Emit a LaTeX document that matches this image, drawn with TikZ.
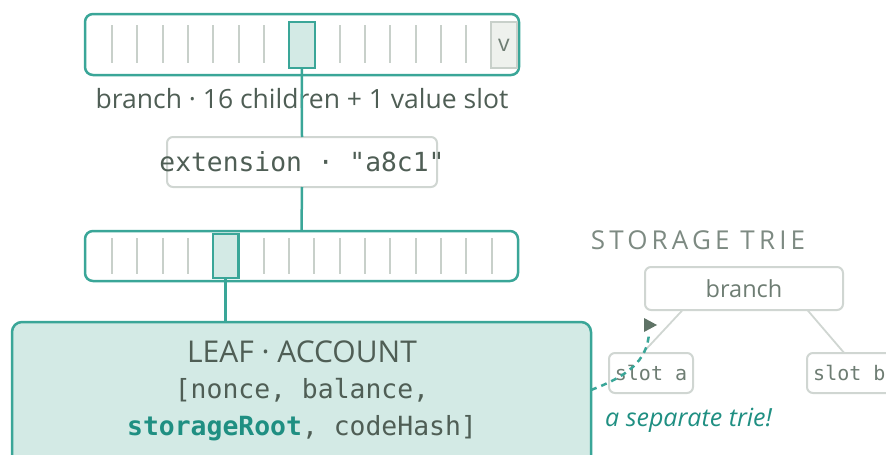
\documentclass[tikz,border=0pt]{standalone}
\usepackage{fontspec}
\setmainfont{Open Sans}
\setmonofont{DejaVu Sans Mono}
\newfontfamily\spacedfont[LetterSpace=16]{Open Sans}
\usetikzlibrary{calc}
\definecolor{tealc}{RGB}{58,166,152}
\definecolor{tealfill}{RGB}{211,234,229}
\definecolor{tealtext}{RGB}{31,143,130}
\definecolor{slotgray}{RGB}{200,208,202}
\definecolor{boxgray}{RGB}{208,214,210}
\definecolor{textdark}{RGB}{79,94,85}
\definecolor{textmid}{RGB}{110,125,115}
\definecolor{titlegray}{RGB}{125,138,130}
\definecolor{arrowgray}{RGB}{95,115,102}
\definecolor{vfill}{RGB}{238,241,237}
\begin{document}
\begin{tikzpicture}[x=1pt,y=-1pt,
  outerbox/.style={draw=tealc, line width=2.5pt, rounded corners=8pt, fill=white, inner sep=0pt, outer sep=0pt},
  hlbox/.style={draw=tealc, line width=2.5pt, fill=tealfill, inner sep=0pt, outer sep=0pt},
  slotline/.style={draw=slotgray, line width=2pt},
  graybox/.style={draw=boxgray, line width=2pt, rounded corners=6pt, fill=white, inner sep=0pt, outer sep=0pt, text=textdark},
  conn/.style={draw=tealc, line width=2.5pt},
  sedge/.style={draw=boxgray, line width=1.8pt},
  lbl/.style={text=textdark, inner sep=0pt},
  dasharrow/.style={draw=tealc, line width=2.5pt, dash pattern=on 6pt off 5pt}
]
\useasboundingbox (0,0) rectangle (886,455);

% top branch
\node[outerbox, minimum width=434pt, minimum height=61pt] (b1) at (302,44.5) {};
\foreach \k in {0,...,6,9,10,11,12,13,14} {
  \draw[slotline] ({112+25.3*\k},25) -- ({112+25.3*\k},63);
}
\node[hlbox, minimum width=26pt, minimum height=46pt] (hl1) at (301.8,45) {};
\node[draw=slotgray, line width=1.8pt, fill=vfill, inner sep=0pt, outer sep=0pt, minimum width=26pt, minimum height=46pt, text=textmid, font=\fontsize{23}{26}\selectfont] (vb) at (504,45) {v};
\node[lbl, font=\fontsize{26.5}{30}\selectfont] (lab1) at (302,99) {branch · 16 children + 1 value slot};

% extension
\node[graybox, minimum width=270pt, minimum height=50pt] (ext) at (302,162) {};
\node[lbl, font=\ttfamily\fontsize{26.3}{30}\selectfont] (extt) at (ext.center) {extension · "a8c1"};

% second branch
\node[outerbox, minimum width=433pt, minimum height=50pt] (b2) at (301.5,256) {};
\foreach \k in {0,...,3,6,7,8,9,10,11,12,13,14,15} {
  \draw[slotline] ({112+25.3*\k},238) -- ({112+25.3*\k},274);
}
\node[hlbox, minimum width=25.3pt, minimum height=44pt] (hl2) at (225.7,256) {};

% leaf
\node[outerbox, fill=tealfill, rounded corners=10pt, minimum width=579pt, minimum height=150pt] (leaf) at (301.5,397) {};
\node[lbl, font=\fontsize{30}{34}\selectfont] (leaft) at (302,352) {LEAF · ACCOUNT};
\node[lbl, font=\ttfamily\fontsize{26.4}{30}\selectfont] (leaf1) at (302,390) {[nonce, balance,};
\node[lbl, font=\ttfamily\fontsize{26.4}{30}\selectfont] (leaf2) at (302,428) {\textcolor{tealtext}{\bfseries storageRoot}, codeHash]};

% connectors
\draw[conn] (hl1.south) -- (ext.north);
\draw[conn] (ext.south) -- (b2.north);
\draw[conn] (hl2.south) -- (hl2.south |- leaf.north);

% storage trie
\node[text=titlegray, inner sep=0pt, font=\spacedfont\fontsize{26}{30}\selectfont] (stitle) at (698,240) {STORAGE TRIE};
\node[graybox, minimum width=198pt, minimum height=43pt, text=textmid, font=\fontsize{23.5}{27}\selectfont] (sbranch) at (744,288.5) {branch};
\node[graybox, minimum width=84pt, minimum height=40pt, text=textmid, font=\ttfamily\fontsize{20}{24}\selectfont] (slota) at (651,373) {slot a};
\node[graybox, minimum width=93pt, minimum height=40pt, text=textmid, font=\ttfamily\fontsize{20}{24}\selectfont] (slotb) at (853.5,373) {};
\node[text=textmid, anchor=west, inner sep=0pt, font=\ttfamily\fontsize{20}{24}\selectfont] (slotbt) at (813,373) {slot b};
\draw[sedge] ($(sbranch.south west)!0.19!(sbranch.south east)$) -- ($(slota.north west)!0.4!(slota.north east)$);
\draw[sedge] ($(sbranch.south west)!0.82!(sbranch.south east)$) -- ($(slotb.north west)!0.4!(slotb.north east)$);

% dashed link
\coordinate (dstart) at ($(leaf.north east)+(0,68)$);
\coordinate (dend) at (649,332);
\draw[dasharrow] (dstart) .. controls (625,377) and (648,362) .. (dend);
\fill[arrowgray] ($(dend)+(-5,-14)$) -- ($(dend)+(8,-7)$) -- ($(dend)+(-5,0)$) -- cycle;

\node[text=tealtext, anchor=west, inner sep=0pt, font=\itshape\fontsize{25}{28}\selectfont] (sep) at (605,420) {a separate trie!};
\end{tikzpicture}
\end{document}
